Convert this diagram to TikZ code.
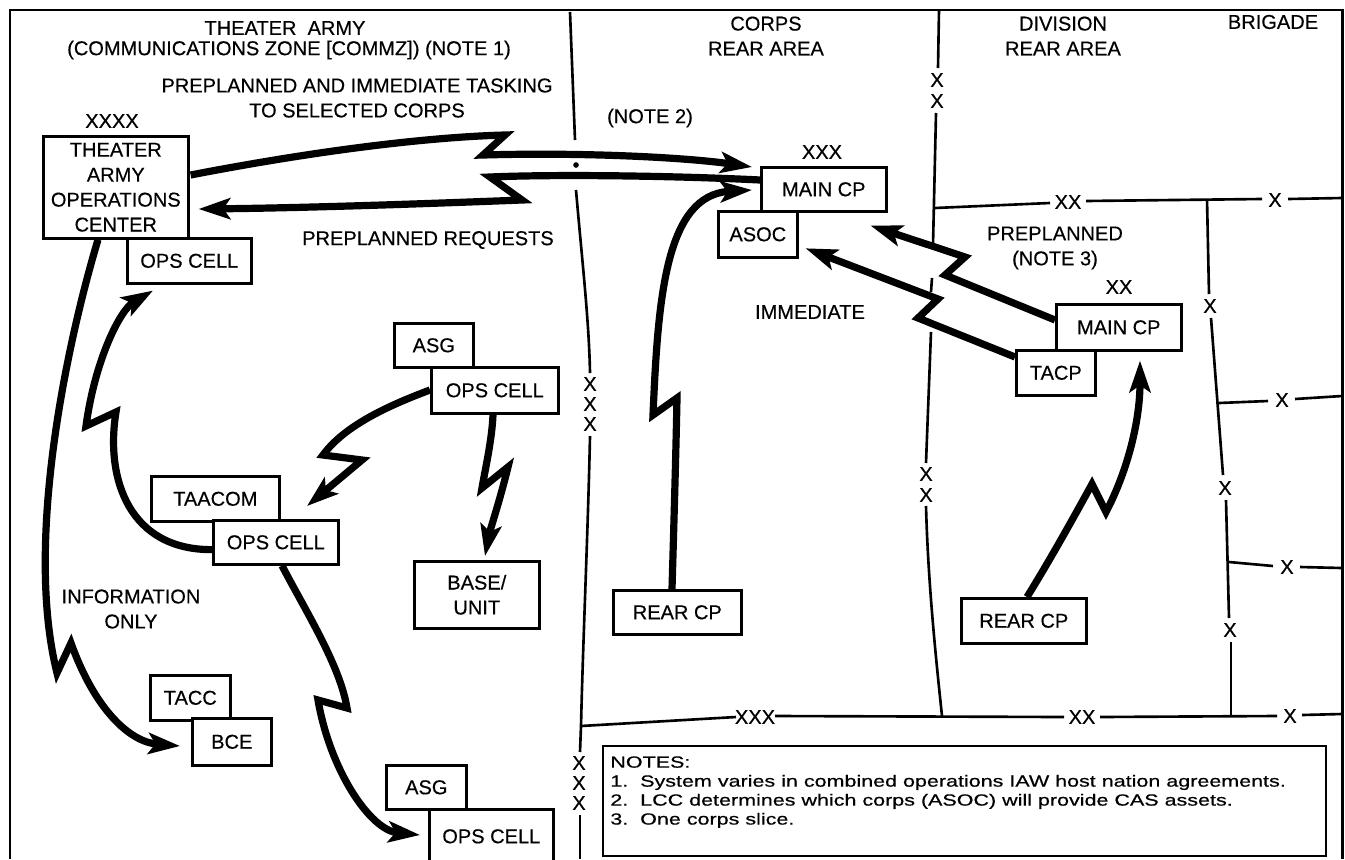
\documentclass[tikz,border=0pt]{standalone}
\usepackage{fontspec}
\setmainfont{Liberation Sans}[FakeBold=0.4]
\newfontfamily\notefont{Liberation Sans}[FakeBold=0.5, FakeStretch=1.33]
\usetikzlibrary{arrows.meta}
\usetikzlibrary{calc}

\tikzset{
  box/.style = {draw, line width=1.5pt, fill=white, inner sep=0pt, align=center, anchor=north west},
  bolt/.style = {line width=4.1pt, line join=miter, miter limit=4, -{Stealth[length=18pt,width=12pt,inset=4pt]}},
  bnd/.style = {line width=1.5pt},
  xtag/.style = {inner sep=0pt},
}

\begin{document}
\begin{tikzpicture}[x=0.02cm, y=-0.02cm, font=\fontsize{11.4}{14.2}\selectfont]
        \useasboundingbox (0,0) rectangle (1345,859);
        % frame
        \draw[line width=1.7pt] (10,859) -- (10,10) -- (1342,10) -- (1342,859);

        % area titles
        \node[align=center] at (285,28) {THEATER\ \ ARMY};
        \node[align=center] at (289,50) {(COMMUNICATIONS ZONE [COMMZ]) (NOTE 1)};
        \node[align=center] at (357,98) {PREPLANNED AND IMMEDIATE TASKING\\TO SELECTED CORPS};
        \node[align=center] at (766,36) {CORPS\\REAR AREA};
        \node[align=center] at (1063,36) {DIVISION\\REAR AREA};
        \node at (1273,22) {BRIGADE};

        % theater / corps boundary
        \draw[bnd] (570,12) -- (575,140);
        \fill (576,165) circle (1.6pt);
        \draw[bnd] (576,190) .. controls (582,260) and (589,320) .. (590,373);
        \node[xtag] at (590,384) {X};
        \node[xtag] at (590,404) {X};
        \node[xtag] at (590,424) {X};
        \draw[bnd] (590,436) .. controls (588,530) and (583,640) .. (581,726) -- (580,752);
        \node[xtag] at (579,763) {X};
        \node[xtag] at (579,783) {X};
        \node[xtag] at (579,803) {X};
        \draw[bnd] (580,815) -- (580,859);
        \draw[bnd] (581,726) -- (736,717);
        \node[xtag] at (755,717) {XXX};
        \draw[bnd] (775,716) -- (1064,717);
        \node[xtag] at (1082,717) {XX};
        \draw[bnd] (1100,717) -- (1277,716);
        \node[xtag] at (1290,716) {X};
        \draw[bnd] (1302,715) -- (1342,714);

        % corps / division boundary
        \draw[bnd] (939,10) -- (938,68);
        \node[xtag] at (937,80) {X};
        \node[xtag] at (937,101) {X};
        \draw[bnd] (936,113) -- (933,245);
        \draw[bnd] (932,278) -- (931,292);
        \draw[bnd] (931,332) -- (926,463);
        \node[xtag] at (926,474) {X};
        \node[xtag] at (926,495) {X};
        \draw[bnd] (926,506) .. controls (928,580) and (935,650) .. (942,716);
        \draw[bnd] (935,208) -- (1050,203);
        \node[xtag] at (1068,202) {XX};
        \draw[bnd] (1086,201) -- (1262,199);
        \node[xtag] at (1275,200) {X};
        \draw[bnd] (1288,199) -- (1342,198);

        % division / brigade boundaries
        \draw[bnd] (1207,199) -- (1209,294);
        \node[xtag] at (1210,306) {X};
        \draw[bnd] (1211,318) -- (1223,475);
        \node[xtag] at (1225,488) {X};
        \draw[bnd] (1226,500) -- (1229,618);
        \node[xtag] at (1230,630) {X};
        \draw[bnd] (1231,642) -- (1231,716);
        \draw[bnd] (1219,403) -- (1268,401);
        \node[xtag] at (1282,400) {X};
        \draw[bnd] (1295,399) -- (1342,396);
        \draw[bnd] (1229,562) -- (1273,566);
        \node[xtag] at (1287,567) {X};
        \draw[bnd] (1300,567) -- (1342,568);

        % theater army
        \node at (112,121) {XXXX};
        \node[box, minimum width=2.9cm, minimum height=2.04cm] (tao) at (42,135) {THEATER\\ARMY\\OPERATIONS\\CENTER};
        \node[box, minimum width=2.48cm, minimum height=0.9cm] (tops) at (126,237) {OPS CELL};
        \node[box, minimum width=1.58cm, minimum height=0.88cm] (asg) at (393,322) {ASG};
        \node[box, minimum width=2.54cm, minimum height=0.92cm] (asgops) at (430,366) {OPS CELL};
        \node[box, minimum width=2.56cm, minimum height=0.9cm] (taacom) at (150,475) {TAACOM};
        \node[box, minimum width=2.5cm, minimum height=0.88cm] (taaops) at (212,519) {OPS CELL};
        \node[box, minimum width=2.5cm, minimum height=1.34cm] (base) at (413,560) {BASE/\\UNIT};
        \node[box, minimum width=1.6cm, minimum height=0.9cm] (tacc) at (149,674) {TACC};
        \node[box, minimum width=1.58cm, minimum height=0.94cm] (bce) at (191,717) {BCE};
        \node[box, minimum width=1.6cm, minimum height=0.88cm] (asgb) at (385,764) {ASG};
        \node[box, minimum width=2.48cm, minimum height=1.08cm] (asgbops) at (428,808) {OPS CELL};
        \node[align=center] at (428,240) {PREPLANNED REQUESTS};
        \node[align=center] at (131,609) {INFORMATION\\ONLY};

        % corps
        \node at (650,118) {(NOTE 2)};
        \node at (822,152) {XXX};
        \node[box, minimum width=2.5cm, minimum height=0.88cm] (cmain) at (760,166) {MAIN CP};
        \node[box, minimum width=1.58cm, minimum height=0.92cm] (asoc) at (717,210) {ASOC};
        \node[box, minimum width=2.56cm, minimum height=0.88cm] (crear) at (612,589) {REAR CP};
        \node at (810,312) {IMMEDIATE};

        % division
        \node[align=center] at (1055,248) {PREPLANNED\\(NOTE 3)};
        \node at (1119,287) {XX};
        \node[box, minimum width=2.5cm, minimum height=0.92cm] (dmain) at (1055,303) {MAIN CP};
        \node[box, minimum width=1.58cm, minimum height=0.9cm] (tacp) at (1015,349) {TACP};
        \node[box, minimum width=2.5cm, minimum height=0.9cm] (drear) at (960,597) {REAR CP};

        % message flows
        \draw[bolt] ($(tao.north east)+(1,40)$) .. controls (320,150) and (430,137) .. (505,135) -- (483,155)
            .. controls (590,152) and (690,158) .. ($(cmain.north west)+(-8,1)$);
        \draw[bolt] ($(cmain.north west)+(0,14)$) .. controls (680,176) and (560,174) .. (490,177) -- (522,200)
            .. controls (420,204) and (300,208) .. ($(tao.north east)+(9,74)$);
        \draw[bolt] ($(crear.north west)+(60,0)$) .. controls (674,520) and (676,450) .. (677,398) -- (653,415)
            .. controls (658,300) and (665,195) .. ($(cmain.north west)+(-8,24)$);
        \draw[bolt] ($(tao.south west)+(56,0)$) .. controls (65,350) and (25,545) .. (57,673) -- (71,643)
            .. controls (95,710) and (130,742) .. ($(bce.north west)+(-11,29)$);
        \draw[bolt] ($(taaops.south west)+(0,-16)$) .. controls (130,550) and (105,480) .. (116,412) -- (86,426)
            .. controls (95,360) and (120,310) .. ($(tops.south west)+(27,6)$);
        \draw[bolt] ($(asgops.north west)+(0,24)$) .. controls (390,405) and (345,425) .. (323,455) -- (362,460)
            -- ($(taaops.north west)+(95,-13)$);
        \draw[bolt] ($(asgops.south west)+(63,0)$) .. controls (492,440) and (485,470) .. (482,488) -- (508,467)
            .. controls (500,500) and (490,530) .. ($(base.north west)+(72,-4)$);
        \draw[bolt] ($(taaops.south west)+(70,0)$) .. controls (305,610) and (340,665) .. (347,708) -- (318,700)
            .. controls (330,770) and (370,830) .. ($(asgbops.north west)+(-8,27)$);
        \draw[bolt] ($(drear.north west)+(67,0)$) .. controls (1050,560) and (1075,515) .. (1092,484) -- (1106,512)
            .. controls (1128,470) and (1140,420) .. ($(dmain.south west)+(85,9)$);
        \draw[bolt] ($(dmain.north west)+(0,17)$) -- (945,275) -- (965,257) -- ($(cmain.south east)+(-17,13)$);
        \draw[bolt] ($(tacp.north west)+(0,8)$) -- (918,318) -- (938,299) -- ($(asoc.east)+(7,14)$);

        % notes
        \node[draw, line width=1.4pt, anchor=north west, minimum width=14.46cm, minimum height=2.2cm] (notes) at (602,745) {};
        \node[anchor=north west, align=left, inner sep=0pt, font=\notefont\fontsize{9.2}{10.8}\selectfont] (notetext)
            at ($(notes.north west)+(8,11)$)
            {NOTES:\\1.\ \ System varies in combined operations IAW host nation agreements.\\
             2.\ \ LCC determines which corps (ASOC) will provide CAS assets.\\3.\ \ One corps slice.};
    \end{tikzpicture}
\end{document}
